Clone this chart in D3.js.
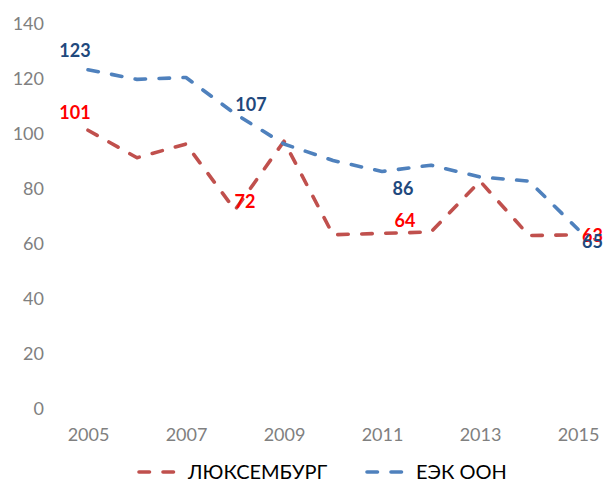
<!DOCTYPE html>
<html>
<head>
<meta charset="utf-8">
<script src="https://cdn.jsdelivr.net/npm/d3@7"></script>
<style>
  html, body { margin: 0; padding: 0; background: #fff; }
  svg { display: block; }
</style>
</head>
<body>
<svg id="chart" width="603" height="483"></svg>
<script>
// Years on the horizontal axis
const years = [2005, 2006, 2007, 2008, 2009, 2010, 2011, 2012, 2013, 2014, 2015];
// Series values
const luxembourg = [101, 91, 96, 72, 97, 63, 63.5, 64, 82.5, 62.7, 63];
const unece = [123, 119.5, 120.2, 107, 96, 90, 86, 88.3, 84, 82.5, 65];
const seriesNames = ["ЛЮКСЕМБУРГ", "ЕЭК ООН"];
const yTicks = [0, 20, 40, 60, 80, 100, 120, 140];
const xTicks = [2005, 2007, 2009, 2011, 2013, 2015];

// Which points carry a value label (index into the series)
const luxLabelIdx = [0, 3, 6, 10];
const uneceLabelIdx = [0, 3, 6, 10];

const lineColors = ["#C0504D", "#4F81BD"];
const labelColors = ["#FF0000", "#1F497D"];
// Label offsets from their point, px
const luxLabelOffsets = [[-13, -18], [10, -8], [23, -13], [4, 1]];
const uneceLabelOffsets = [[-13, -19], [16, -9], [21, 17], [4, 12]];

const svg = d3.select("#chart");
const font = "Lato, 'Open Sans', sans-serif";

const x = d3.scaleLinear().domain([2005, 2015]).range([88, 578]);
const y = d3.scaleLinear().domain([0, 140]).range([408, 23]);

// Y axis (labels only)
const yAxis = d3.axisLeft(y).tickValues(yTicks).tickSize(0).tickPadding(0);
const gy = svg.append("g").attr("transform", "translate(44,0)").call(yAxis);
gy.select(".domain").remove();
gy.selectAll("text")
  .attr("font-family", font).attr("font-size", 18).attr("fill", "#808080")
  .attr("dy", "0.35em");

// X axis (labels only)
const xAxis = d3.axisBottom(x).tickValues(xTicks).tickFormat(d3.format("d")).tickSize(0).tickPadding(0);
const gx = svg.append("g").attr("transform", "translate(0,435)").call(xAxis);
gx.select(".domain").remove();
gx.selectAll("text")
  .attr("font-family", font).attr("font-size", 18).attr("fill", "#808080")
  .attr("dy", "0.35em");

const line = d3.line().x((d, i) => x(years[i])).y(d => y(d));

const allSeries = [luxembourg, unece];
allSeries.forEach((vals, s) => {
  svg.append("path")
    .datum(vals)
    .attr("d", line)
    .attr("fill", "none")
    .attr("stroke", lineColors[s])
    .attr("stroke-width", 3.6)
    .attr("stroke-dasharray", "10.5,13.5")
    .attr("stroke-linecap", "round")
    .attr("stroke-linejoin", "round");
});

// Value labels
const labelSets = [
  [luxembourg, luxLabelIdx, luxLabelOffsets],
  [unece, uneceLabelIdx, uneceLabelOffsets]
];
labelSets.forEach(([vals, idx, offs], s) => {
  idx.forEach((i, k) => {
    const last = i === vals.length - 1;
    svg.append("text")
      .attr("x", x(years[i]) + offs[k][0])
      .attr("y", y(vals[i]) + offs[k][1])
      .attr("dy", "0.35em")
      .attr("text-anchor", last ? "start" : "middle")
      .attr("font-family", font)
      .attr("font-weight", "bold")
      .attr("font-size", 18)
      .attr("fill", labelColors[s])
      .text(d3.format("d")(Math.round(vals[i])));
  });
});

// Legend
const legendX = [137, 365];
seriesNames.forEach((name, s) => {
  const g = svg.append("g").attr("transform", `translate(${legendX[s]},472)`);
  g.append("line")
    .attr("x1", 2).attr("x2", 40).attr("y1", 0).attr("y2", 0)
    .attr("stroke", lineColors[s])
    .attr("stroke-width", 3.6)
    .attr("stroke-dasharray", "10.5,13.5")
    .attr("stroke-linecap", "round");
  g.append("text")
    .attr("x", 51).attr("y", 0).attr("dy", "0.35em")
    .attr("font-family", font).attr("font-size", 20).attr("fill", "#000")
    .text(name);
});
</script>
</body>
</html>
